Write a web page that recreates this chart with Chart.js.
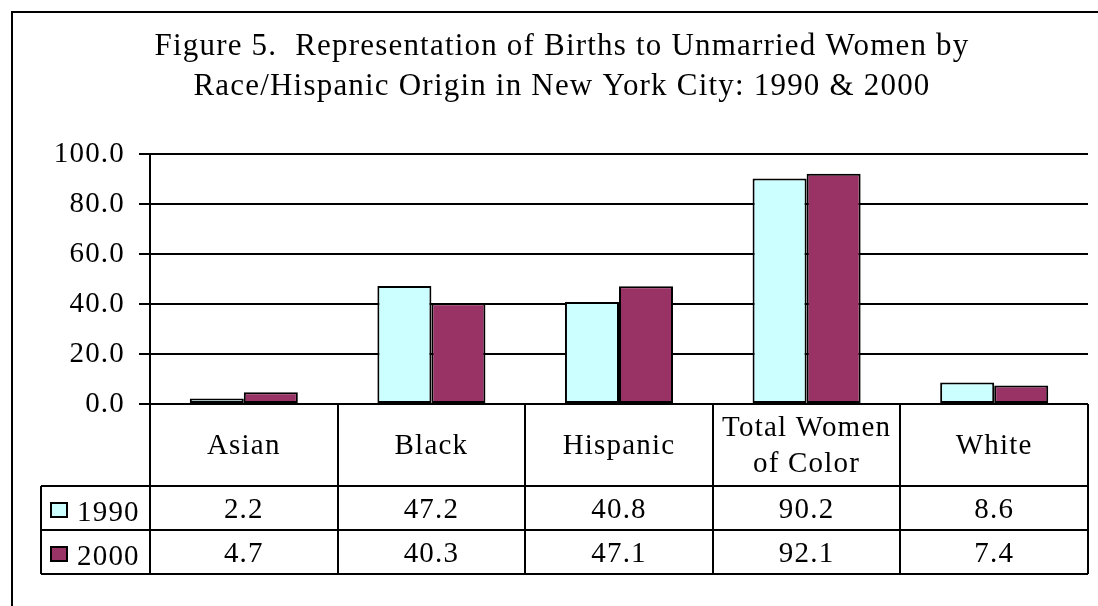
<!DOCTYPE html>
<html>
<head>
<meta charset="utf-8">
<style>
  html, body { margin: 0; padding: 0; background: #fff; }
  #chart { display: block; }
</style>
<script src="https://cdn.jsdelivr.net/npm/chart.js@4/dist/chart.umd.min.js"></script>
</head>
<body>
<canvas id="chart" width="1098" height="606"></canvas>
<script>
const titleLines = [
  "Figure 5.  Representation of Births to Unmarried Women by",
  "Race/Hispanic Origin in New York City: 1990 & 2000"
];
const categories = [["Asian"], ["Black"], ["Hispanic"], ["Total Women", "of Color"], ["White"]];
const seriesNames = ["1990", "2000"];
const values1990 = [2.2, 47.2, 40.8, 90.2, 8.6];
const values2000 = [4.7, 40.3, 47.1, 92.1, 7.4];
const yTicks = [0, 20, 40, 60, 80, 100];

const seriesColors = ["#CCFFFF", "#993366"];
const FONT = "'Liberation Serif', 'Times New Roman', serif";
const SPACING = "1.2px";
const TEXT_SIZE = 29;

// outer frame (only top and left edges fall inside the picture)
const framePlugin = {
  id: "frame",
  beforeDraw(chart) {
    const ctx = chart.ctx;
    ctx.letterSpacing = SPACING;
    ctx.save();
    ctx.strokeStyle = "#000";
    ctx.lineWidth = 2;
    ctx.beginPath();
    ctx.moveTo(12, chart.height);
    ctx.lineTo(12, 12);
    ctx.lineTo(chart.width, 12);
    ctx.stroke();
    ctx.restore();
  }
};

// Excel-like data table under the category axis
const tablePlugin = {
  id: "dataTable",
  afterDraw(chart) {
    const ctx = chart.ctx;
    const xs = chart.scales.x;
    const area = chart.chartArea;
    const headerH = 82, rowH = 44, legendW = 109;
    const top = area.bottom;
    const r1 = top + headerH, r2 = r1 + rowH, r3 = r2 + rowH;
    const legendLeft = area.left - legendW;
    const rows = [values1990, values2000];

    ctx.save();
    ctx.letterSpacing = SPACING;
    ctx.strokeStyle = "#000";
    ctx.lineWidth = 2;
    ctx.beginPath();
    [r1, r2, r3].forEach((y) => {
      ctx.moveTo(legendLeft, y);
      ctx.lineTo(area.right, y);
    });
    for (let i = 0; i <= categories.length; i++) {
      const x = Math.round(xs.getPixelForValue(i - 0.5));
      ctx.moveTo(x, top);
      ctx.lineTo(x, r3);
    }
    ctx.moveTo(legendLeft, r1);
    ctx.lineTo(legendLeft, r3);
    ctx.stroke();

    ctx.fillStyle = "#000";
    ctx.font = TEXT_SIZE + "px " + FONT;
    ctx.textAlign = "center";
    ctx.textBaseline = "middle";
    categories.forEach((lines, i) => {
      const cx = xs.getPixelForValue(i);
      const mid = top + headerH / 2 + 1;
      lines.forEach((t, j) => {
        ctx.fillText(t, cx, mid + (j - (lines.length - 1) / 2) * 36);
      });
      rows.forEach((vals, k) => {
        const cy = r1 + k * rowH + rowH / 2 + 2;
        ctx.fillText(vals[i].toFixed(1), cx, cy);
      });
    });

    ctx.textAlign = "left";
    seriesNames.forEach((name, k) => {
      const cy = r1 + k * rowH + rowH / 2 + 2;
      ctx.fillStyle = seriesColors[k];
      ctx.fillRect(legendLeft + 10, cy - 7, 16, 14);
      ctx.strokeRect(legendLeft + 10, cy - 7, 16, 14);
      ctx.fillStyle = "#000";
      ctx.fillText(name, legendLeft + 36, cy + 3);
    });
    ctx.restore();
  }
};

Chart.defaults.font.family = FONT;
Chart.defaults.color = "#000";

new Chart(document.getElementById("chart"), {
  type: "bar",
  data: {
    labels: categories.map((c) => c.join(" ")),
    datasets: [
      {
        label: seriesNames[0],
        data: values1990,
        backgroundColor: seriesColors[0],
        borderColor: "#000",
        borderWidth: 2,
        borderSkipped: false
      },
      {
        label: seriesNames[1],
        data: values2000,
        backgroundColor: seriesColors[1],
        borderColor: "#000",
        borderWidth: 2,
        borderSkipped: false
      }
    ]
  },
  options: {
    responsive: false,
    devicePixelRatio: 1,
    animation: false,
    categoryPercentage: 0.576,
    barPercentage: 1,
    layout: { padding: { left: 36, right: 10, top: 0, bottom: 202 } },
    plugins: {
      legend: { display: false },
      tooltip: { enabled: false },
      title: {
        display: true,
        text: titleLines,
        color: "#000",
        font: { family: FONT, size: 31, weight: "normal", lineHeight: 40 / 31 },
        padding: { top: 27, bottom: 47 }
      }
    },
    scales: {
      x: { display: false },
      y: {
        min: 0,
        max: 100,
        afterBuildTicks: (scale) => {
          scale.ticks = yTicks.map((v) => ({ value: v }));
        },
        afterFit: (scale) => {
          scale.width = 114;
        },
        ticks: {
          padding: 14,
          color: "#000",
          font: { family: FONT, size: TEXT_SIZE },
          callback: (v) => Number(v).toFixed(1)
        },
        grid: { color: "#000", lineWidth: 2, tickLength: 11, drawTicks: true },
        border: { display: true, color: "#000", width: 2 }
      }
    }
  },
  plugins: [framePlugin, tablePlugin]
});
</script>
</body>
</html>
